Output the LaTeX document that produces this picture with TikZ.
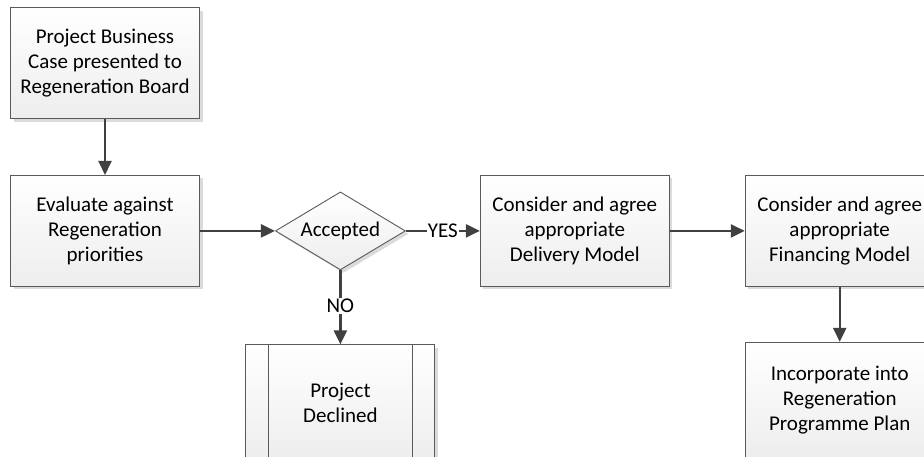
\documentclass[tikz,border=0pt]{standalone}
\usepackage{fontspec}
\setmainfont{Carlito}
\usepackage{tikz}
\usetikzlibrary{arrows.meta,positioning,shapes.geometric,shadows,calc}
\definecolor{flowgray}{HTML}{404040}
\definecolor{edgegray}{HTML}{5A5A5A}
\tikzset{
  stepbox/.style={
    draw=edgegray,
    line width=0.9pt,
    top color=white,
    bottom color=gray!14,
    drop shadow={shadow xshift=3pt,shadow yshift=-3pt,fill=gray!28,opacity=1},
    align=center,
    minimum width=189pt,
    minimum height=111pt,
    inner sep=2pt,
    font=\fontsize{21}{25}\selectfont
  },
  decision/.style={
    diamond,
    draw=edgegray,
    line width=0.9pt,
    top color=white,
    bottom color=gray!14,
    drop shadow={shadow xshift=3pt,shadow yshift=-3pt,fill=gray!28,opacity=1},
    aspect=1.67,
    inner sep=0pt,
    minimum width=130pt,
    minimum height=78pt,
    font=\fontsize{21}{25}\selectfont
  },
  flowarrow/.style={
    -{Triangle[length=14pt,width=13pt]},
    line width=2.4pt,
    draw=flowgray
  },
  answer/.style={
    fill=white,
    inner sep=1pt,
    font=\fontsize{21}{25}\selectfont
  }
}
\begin{document}
\begin{tikzpicture}[node distance=56pt and 75pt]
    \useasboundingbox (0pt,0pt) rectangle (924pt,-456pt);
    \node[stepbox] (case) at (105pt,-63pt) {Project Business\\Case presented to\\Regeneration Board};
    \node[stepbox, below=of case] (eval) {Evaluate against\\Regeneration\\priorities};
    \node[decision, right=of eval] (acc) {Accepted};
    \node[stepbox, right=74pt of acc] (deliv) {Consider and agree\\appropriate\\Delivery Model};
    \node[stepbox, right=of deliv] (fin) {Consider and agree\\appropriate\\Financing Model};
    \node[stepbox, below=55pt of fin, minimum height=116pt] (plan) {Incorporate into\\Regeneration\\Programme Plan};
    \node[stepbox, below=74pt of acc, minimum height=116pt] (decl) {Project\\Declined};
    % predefined process side bars
    \draw[edgegray, line width=0.9pt] ([xshift=23pt]decl.north west) -- ([xshift=23pt]decl.south west);
    \draw[edgegray, line width=0.9pt] ([xshift=-23pt]decl.north east) -- ([xshift=-23pt]decl.south east);
    \foreach \a/\b in {case/eval,eval/acc,deliv/fin,fin/plan}
      \draw[flowarrow] (\a) -- (\b);
    \draw[flowarrow] (acc) -- node[answer] (yes) {YES} (deliv);
    \draw[flowarrow] (acc) -- node[answer, pos=0.48] (no) {NO} (decl);
\end{tikzpicture}
\end{document}
